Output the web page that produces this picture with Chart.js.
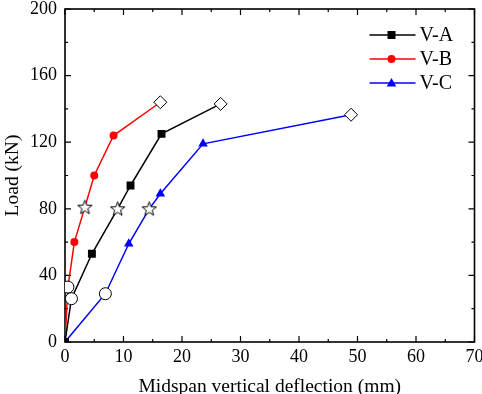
<!DOCTYPE html>
<html>
<head>
<meta charset="utf-8">
<script src="https://cdn.jsdelivr.net/npm/chart.js@4.4.0/dist/chart.umd.min.js"></script>
<style>
  html, body { margin: 0; padding: 0; background: #fff; }
</style>
</head>
<body>
<canvas id="myChart" width="482" height="394"></canvas>
<script>
// data
const seriesNames = ['V-A', 'V-B', 'V-C'];
const deflA = [0, 1.1, 4.6, 9.0, 11.2, 16.5, 26.6];
const loadA = [0, 26, 53, 80, 94, 125, 143];
const deflB = [0, 0.5, 1.6, 3.4, 5.0, 8.3, 16.3];
const loadB = [0, 33, 60, 81, 100, 124, 144];
const deflC = [0, 6.9, 10.9, 14.4, 16.3, 23.6, 48.9];
const loadC = [0, 29, 59, 80, 89, 119, 136.5];
// what each point marks: cracking, yield and peak load
const stages = ['start', 'crack', 'step', 'yield', 'step', 'step', 'peak'];
const xTicks = [0, 10, 20, 30, 40, 50, 60, 70];
const yTicks = [0, 40, 80, 120, 160, 200];

const FONT = "'Liberation Serif', 'Times New Roman', serif";

function makeStar() {
  const c = document.createElement('canvas');
  c.width = 17; c.height = 17;
  const g = c.getContext('2d');
  g.beginPath();
  for (let i = 0; i < 10; i++) {
    const r = i % 2 ? 3.1 : 7.5;
    const a = -Math.PI / 2 + i * Math.PI / 5;
    g.lineTo(8.5 + r * Math.cos(a), 9 + r * Math.sin(a));
  }
  g.closePath();
  g.fillStyle = '#fff'; g.fill();
  g.strokeStyle = '#000'; g.lineWidth = 1; g.stroke();
  return c;
}
const starImg = makeStar();

function toPoints(xs, ys) {
  return xs.map((v, i) => ({ x: v, y: ys[i] }));
}

function series(label, xs, ys, color, marker, radius) {
  const special = c => stages[c.dataIndex];
  return {
    label: label,
    data: toPoints(xs, ys),
    borderColor: color,
    borderWidth: 1.5,
    tension: 0,
    marker: marker,
    pointStyle: c => {
      const s = special(c);
      if (s === 'crack') return 'circle';
      if (s === 'yield') return starImg;
      if (s === 'peak') return 'rectRot';
      return marker;
    },
    pointRadius: c => {
      const s = special(c);
      if (s === 'crack') return 6;
      if (s === 'peak') return 6.5;
      return radius;
    },
    pointHoverRadius: 0,
    pointBackgroundColor: c => ['crack', 'peak'].includes(special(c)) ? '#fff' : color,
    pointBorderColor: c => ['crack', 'peak'].includes(special(c)) ? '#000' : color,
    pointBorderWidth: c => ['crack', 'peak'].includes(special(c)) ? 1 : 0
  };
}

// frame with inward ticks on all four sides
const frameTicks = {
  id: 'frameTicks',
  beforeDatasetsDraw(chart) {
    const { ctx, chartArea: a, scales: { x, y } } = chart;
    ctx.save();
    ctx.strokeStyle = '#000';
    ctx.lineWidth = 1.6;
    ctx.strokeRect(a.left, a.top, a.right - a.left, a.bottom - a.top);
    ctx.lineWidth = 1.2;
    ctx.beginPath();
    for (let v = 0; v <= 70; v += 5) {
      const px = x.getPixelForValue(v);
      const len = v % 10 === 0 ? 6 : 3;
      ctx.moveTo(px, a.bottom); ctx.lineTo(px, a.bottom - len);
      ctx.moveTo(px, a.top); ctx.lineTo(px, a.top + len);
    }
    for (let v = 0; v <= 200; v += 20) {
      const py = y.getPixelForValue(v);
      const len = v % 40 === 0 ? 6 : 3;
      ctx.moveTo(a.left, py); ctx.lineTo(a.left + len, py);
      ctx.moveTo(a.right, py); ctx.lineTo(a.right - len, py);
    }
    ctx.stroke();
    ctx.restore();
  }
};

function legendMarker(ctx, kind, x, y, color) {
  ctx.fillStyle = color;
  ctx.beginPath();
  if (kind === 'rect') {
    ctx.rect(x - 4, y - 4, 8, 8);
  } else if (kind === 'circle') {
    ctx.arc(x, y, 4, 0, Math.PI * 2);
  } else {
    ctx.moveTo(x, y - 5); ctx.lineTo(x + 4.8, y + 3.5); ctx.lineTo(x - 4.8, y + 3.5);
    ctx.closePath();
  }
  ctx.fill();
}

const insideLegend = {
  id: 'insideLegend',
  afterDatasetsDraw(chart) {
    const { ctx, chartArea: a } = chart;
    ctx.save();
    ctx.font = '20px ' + FONT;
    ctx.textBaseline = 'middle';
    ctx.textAlign = 'left';
    chart.data.datasets.forEach((ds, i) => {
      const yy = a.top + 26 + i * 24;
      const x0 = a.right - 105;
      ctx.strokeStyle = ds.borderColor;
      ctx.lineWidth = 1.5;
      ctx.beginPath();
      ctx.moveTo(x0, yy); ctx.lineTo(x0 + 46, yy);
      ctx.stroke();
      legendMarker(ctx, ds.marker, x0 + 22, yy, ds.borderColor);
      ctx.fillStyle = '#000';
      ctx.fillText(ds.label, x0 + 50, yy + 1);
    });
    ctx.restore();
  }
};

const ctx = document.getElementById('myChart').getContext('2d');
const chart = new Chart(ctx, {
  type: 'line',
  data: {
    datasets: [
      series(seriesNames[0], deflA, loadA, '#000000', 'rect', 5.6),
      series(seriesNames[1], deflB, loadB, '#ff0000', 'circle', 4),
      series(seriesNames[2], deflC, loadC, '#0000ff', 'triangle', 5.5)
    ]
  },
  options: {
    responsive: false,
    animation: false,
    layout: { padding: { left: 0, right: 3, top: 9, bottom: 0 } },
    plugins: {
      legend: { display: false },
      tooltip: { enabled: false }
    },
    scales: {
      x: {
        type: 'linear',
        min: 0,
        max: 70,
        afterBuildTicks: s => { s.ticks = xTicks.map(v => ({ value: v })); },
        afterFit: s => { s.height = 52; s.paddingLeft = 0; s.paddingRight = 0; },
        grid: { display: false, drawTicks: false },
        border: { display: false },
        ticks: { color: '#000', font: { family: FONT, size: 18 }, padding: 4, maxRotation: 0 },
        title: {
          display: true,
          text: 'Midspan vertical deflection (mm)',
          color: '#000',
          font: { family: FONT, size: 19.5 },
          padding: { top: 0, bottom: -5 }
        }
      },
      y: {
        type: 'linear',
        min: 0,
        max: 200,
        afterBuildTicks: s => { s.ticks = yTicks.map(v => ({ value: v })); },
        afterFit: s => { s.width = 65; s.paddingTop = 0; s.paddingBottom = 0; },
        grid: { display: false, drawTicks: false },
        border: { display: false },
        ticks: { color: '#000', font: { family: FONT, size: 18 }, padding: 8 },
        title: {
          display: true,
          text: 'Load (kN)',
          color: '#000',
          font: { family: FONT, size: 19.5 },
          padding: { top: 1, bottom: 0 }
        }
      }
    }
  },
  plugins: [frameTicks, insideLegend]
});
</script>
</body>
</html>
